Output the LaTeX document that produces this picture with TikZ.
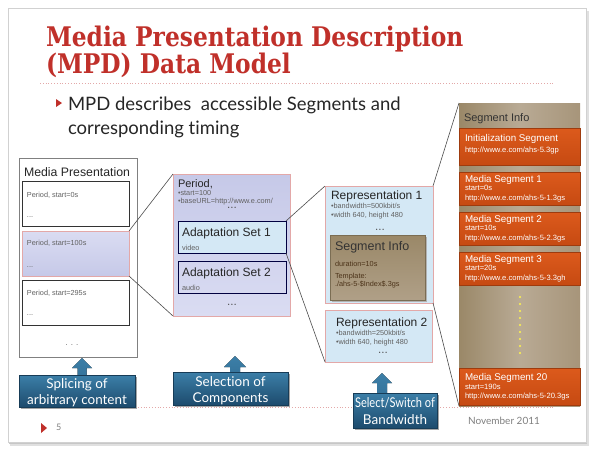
\documentclass[tikz,border=0pt]{standalone}
\usepackage{fontspec}
\setmainfont{Liberation Sans}
\newfontfamily\titlefont{DejaVu Serif}
\newfontfamily\gillfont[Ligatures=NoCommon]{Lato}
\definecolor{titlered}{HTML}{C0302A}
\definecolor{pinkline}{HTML}{E3A8A8}
\definecolor{lav}{HTML}{C6C9E8}
\definecolor{lavlight}{HTML}{DADCF2}
\definecolor{lblue}{HTML}{D4E8F5}
\definecolor{tan}{HTML}{A7957A}
\definecolor{tandark}{HTML}{9A8868}
\definecolor{oran}{HTML}{DC5A1C}
\definecolor{orandark}{HTML}{C64A12}
\definecolor{calltop}{HTML}{3C7FA8}
\definecolor{callbot}{HTML}{1D4B6D}
\tikzset{
  conn/.style={draw=black!70, line width=0.6pt},
  box/.style={anchor=north west, inner sep=0, outer sep=0},
  lbl/.style={anchor=base west, inner sep=0, outer sep=0},
  tiny/.style={lbl, font=\fontsize{7.3}{8}\selectfont, text=black!62},
  mid/.style={lbl, font=\fontsize{12}{14}\selectfont, text=black!85},
  segtitle/.style={lbl, font=\fontsize{9.8}{11}\selectfont, text=white},
  segsmall/.style={lbl, font=\fontsize{7.6}{8}\selectfont, text=white},
  callout/.style={box, top color=calltop, bottom color=callbot, draw=callbot!80!black, line width=0.4pt},
  calltext/.style={anchor=base, inner sep=0, font=\gillfont\fontsize{13.5}{16}\selectfont, text=white},
  orangebox/.style={box, top color=oran, bottom color=orandark, draw=orandark!80!black, line width=0.3pt, minimum width=121pt},
  dots/.style={anchor=base, inner sep=0, font=\fontsize{5}{6}\selectfont, text=black!70},
}
\begin{document}
\begin{tikzpicture}[x=1pt,y=-1pt]
\useasboundingbox (0,0) rectangle (594,451);
\fill[white] (0,0) rectangle (594,451);
% slide with shadow
\fill[black!12] (10,11) rectangle (589,446);
\fill[black!22] (9,10) rectangle (587,444);
\fill[white] (8,8) rectangle (586,442);
\draw[black!18, line width=0.5pt] (8,8) rectangle (586,442);

% title
\node[lbl, font=\titlefont\bfseries\fontsize{27}{30}\selectfont, text=titlered] (t1) at (46,46) {\scalebox{0.865}[1]{Media Presentation Description}};
\node[lbl, font=\titlefont\bfseries\fontsize{27}{30}\selectfont, text=titlered] (t2) at (46,73) {\scalebox{0.865}[1]{(MPD) Data Model}};
\draw[pinkline, line width=0.8pt, dotted] (40,83) -- (553,83);

% bullet
\fill[titlered] (56,99) -- (62,103) -- (56,107) -- cycle;
\node[lbl, font=\gillfont\fontsize{18.5}{22}\selectfont, text=black!85] (b1) at (68,110) {MPD describes\ \ accessible Segments and};
\node[lbl, font=\gillfont\fontsize{18.5}{22}\selectfont, text=black!85] (b2) at (68,134) {corresponding timing};

% bottom dotted line
\draw[pinkline, line width=0.8pt, dotted] (40,407) -- (553,407);

% ---- Media Presentation
\node[box, draw=black!50, fill=white, line width=0.6pt, minimum width=118pt, minimum height=199pt] (mp) at (19,158) {};
\node[anchor=base, inner sep=0, font=\fontsize{12.3}{14}\selectfont, text=black!85] (mpt) at (77,176) {Media Presentation};
\node[box, draw=black!80, fill=white, line width=1pt, minimum width=107pt, minimum height=45pt] (p0) at (22,181) {};
\node[tiny] (p0t) at (27,197) {Period, start=0s};
\node[tiny] (p0d) at (27,217) {...};
\node[box, draw=pinkline, top color=lavlight, bottom color=lav, line width=0.8pt, minimum width=107pt, minimum height=45pt] (p1) at (22,231) {};
\node[tiny] (p1t) at (27,245) {Period, start=100s};
\node[tiny] (p1d) at (27,267) {...};
\node[box, draw=black!80, fill=white, line width=1pt, minimum width=107pt, minimum height=45pt] (p2) at (22,280) {};
\node[tiny] (p2t) at (27,295) {Period, start=295s};
\node[tiny] (p2d) at (27,315) {...};
\node[anchor=base, inner sep=0, font=\fontsize{8}{9}\selectfont, text=black!60] (mpd) at (72,345) {. . .};

% ---- Period
\node[box, draw=pinkline, top color=lav, bottom color=lavlight, line width=0.8pt, minimum width=117pt, minimum height=142pt] (per) at (173,174) {};
\node[lbl, font=\fontsize{11}{12}\selectfont, text=black!85] (pert) at (178,187) {Period,};
\node[tiny] (pers) at (178,195.5) {\textbullet start=100};
\node[tiny] (peru) at (178,203) {\textbullet baseURL=http://www.e.com/};
\node[dots] (perd) at (232,209) {\textbullet\ \textbullet\ \textbullet};
\node[box, draw=black!75!blue, fill=lblue, line width=1pt, minimum width=108pt, minimum height=32pt] (as1) at (178,221) {};
\node[mid] (as1t) at (182,236) {Adaptation Set 1};
\node[tiny] (as1s) at (182,250) {video};
\node[box, draw=black!75!blue, line width=1pt, minimum width=108pt, minimum height=32pt] (as2) at (178,261) {};
\node[mid] (as2t) at (182,276) {Adaptation Set 2};
\node[tiny] (as2s) at (182,290) {audio};
\node[dots] (perd2) at (232,306) {\textbullet\ \textbullet\ \textbullet};

% ---- Representations
\node[box, draw=pinkline, fill=lblue, line width=0.8pt, minimum width=108pt, minimum height=117pt] (r1) at (325,186) {};
\node[mid] (r1t) at (331,199) {Representation 1};
\node[tiny] (r1a) at (331,208.5) {\textbullet bandwidth=500kbit/s};
\node[tiny] (r1b) at (331,217) {\textbullet width 640, height 480};
\node[dots] (r1d) at (380,231) {\textbullet\ \textbullet\ \textbullet};
\fill[black!30] (332,237) rectangle (427,302);
\node[box, top color=tandark, bottom color=tan!90!white, draw=tandark!80!black, line width=0.4pt, minimum width=95pt, minimum height=65pt] (si) at (330,235) {};
\node[lbl, font=\fontsize{12.5}{14}\selectfont, text=black!80] (sit) at (335,250) {Segment Info};
\node[tiny, text=black!60!brown] (sid) at (335,266) {duration=10s};
\node[tiny, text=black!60!brown] (sitp) at (335,278) {Template:};
\node[tiny, text=black!60!brown] (sitf) at (335,286) {./ahs-5-\$Index\$.3gs};
\node[box, draw=pinkline, fill=lblue, line width=0.8pt, minimum width=107pt, minimum height=52pt] (r2) at (325,310) {};
\node[mid] (r2t) at (336,326) {Representation 2};
\node[tiny] (r2a) at (336,335.5) {\textbullet bandwidth=250kbit/s};
\node[tiny] (r2b) at (336,344) {\textbullet width 640, height 480};
\node[dots] (r2d) at (383,354) {\textbullet\ \textbullet\ \textbullet};

% ---- Segment Info panel
\node[box, left color=tandark, right color=tan, middle color=tan!80!white, minimum width=121pt, minimum height=303pt] (panel) at (459,103) {};
\node[lbl, font=\fontsize{11}{13}\selectfont, text=black!80] (pt) at (464,121) {Segment Info};
\node[orangebox, minimum height=37pt] (is) at (459,128) {};
\node[segtitle] (ist) at (465,141) {Initialization Segment};
\node[segsmall] (isu) at (465,152) {http://www.e.com/ahs-5.3gp};
\node[orangebox, minimum height=33pt] (ms1) at (459,172) {};
\node[segtitle] (ms1t) at (465,182) {Media Segment 1};
\node[segsmall] (ms1s) at (465,190.5) {start=0s};
\node[segsmall] (ms1u) at (465,200) {http://www.e.com/ahs-5-1.3gs};
\node[orangebox, minimum height=33pt] (ms2) at (459,212) {};
\node[segtitle] (ms2t) at (465,222) {Media Segment 2};
\node[segsmall] (ms2s) at (465,230.5) {start=10s};
\node[segsmall] (ms2u) at (465,240) {http://www.e.com/ahs-5-2.3gs};
\node[orangebox, minimum height=33pt] (ms3) at (459,252) {};
\node[segtitle] (ms3t) at (465,262) {Media Segment 3};
\node[segsmall] (ms3s) at (465,270.5) {start=20s};
\node[segsmall] (ms3u) at (465,280) {http://www.e.com/ahs-5-3.3gh};
\foreach \k in {0,...,8} \fill[yellow!70!white] (520,297+7*\k) circle (1.1pt);
\node[orangebox, minimum height=37pt] (ms20) at (459,368) {};
\node[segtitle] (ms20t) at (465,380) {Media Segment 20};
\node[segsmall] (ms20s) at (465,389) {start=190s};
\node[segsmall] (ms20u) at (465,398) {http://www.e.com/ahs-5-20.3gs};

% ---- connectors
\draw[conn] (p1.north east) -- (per.north west);
\draw[conn] (p1.south east) -- (per.south west);
\draw[conn] (as1.north east) -- (r1.north west);
\draw[conn] (as1.south east) -- (r2.south west);
\draw[conn] (r1.north east) -- (panel.north west);
\draw[conn] (r1.south east) -- (panel.south west);

% ---- callouts
\fill[top color=calltop, bottom color=calltop!80!callbot] (82,358) -- (92,368) -- (86.5,368) -- (86.5,376) -- (77.5,376) -- (77.5,368) -- (72,368) -- cycle;
\fill[black!35] (21,377) rectangle (137,409);
\node[callout, minimum width=116pt, minimum height=32pt] (c1) at (19,375) {};
\node[calltext] (c1a) at (77,388) {Splicing of};
\node[calltext] (c1b) at (77,404) {arbitrary content};

\fill[top color=calltop, bottom color=calltop!80!callbot] (235,356) -- (246,367) -- (240,367) -- (240,373) -- (230,373) -- (230,367) -- (224,367) -- cycle;
\fill[black!35] (175,374) rectangle (290,407);
\node[callout, minimum width=115pt, minimum height=33pt] (c2) at (173,372) {};
\node[calltext] (c2a) at (230.5,386) {Selection of};
\node[calltext] (c2b) at (230.5,402) {Components};

\fill[top color=calltop, bottom color=calltop!80!callbot] (382,373) -- (392,383) -- (387,383) -- (387,394) -- (377,394) -- (377,383) -- (372,383) -- cycle;
\fill[black!35] (355,395) rectangle (439,430);
\node[callout, minimum width=84pt, minimum height=35pt] (c3) at (353,393) {};
\node[calltext] (c3a) at (395,407) {\scalebox{0.82}[1]{Select/Switch of}};
\node[calltext] (c3b) at (395,424) {Bandwidth};

% footer
\fill[titlered] (41,423) -- (47,428) -- (41,433) -- cycle;
\node[lbl, font=\gillfont\fontsize{9}{10}\selectfont, text=black!50] (pg) at (56,430) {5};
\node[anchor=base, inner sep=0, font=\gillfont\fontsize{10}{12}\selectfont, text=black!50] (date) at (504,424) {November 2011};
\end{tikzpicture}
\end{document}
